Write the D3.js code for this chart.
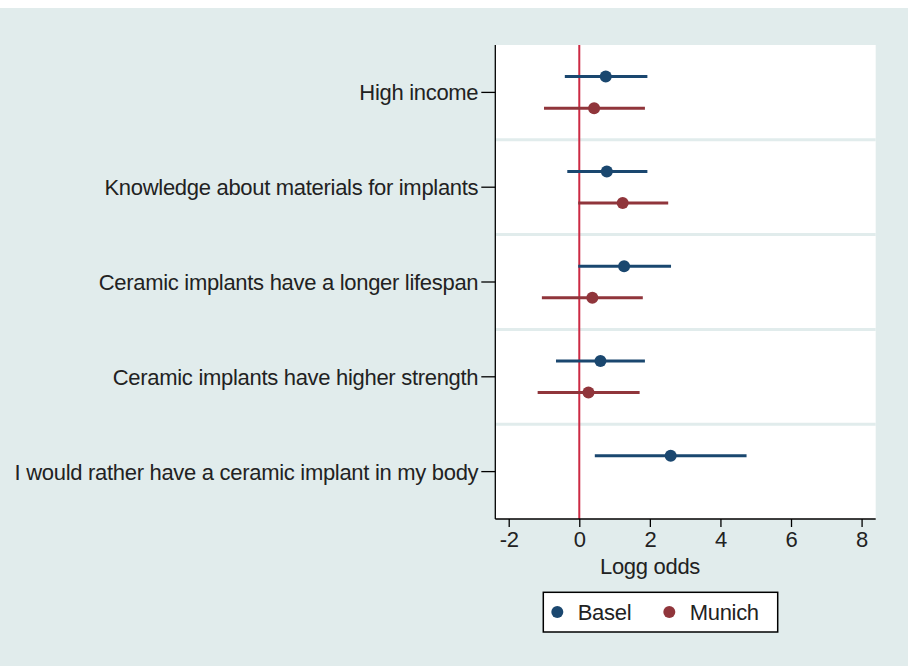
<!DOCTYPE html>
<html>
<head>
<meta charset="utf-8">
<script src="https://cdn.jsdelivr.net/npm/d3@7"></script>
<style>
  html, body { margin: 0; padding: 0; background: #fff; }
  svg { display: block; font-family: "Liberation Sans", Arial, Helvetica, sans-serif; }
  svg text { letter-spacing: -0.3px; }
  .axis text { font-size: 22px; fill: #222; }
  .axis path, .axis line { stroke: #000; stroke-width: 1.3; }
</style>
</head>
<body>
<svg id="chart"></svg>
<script>
// categories (top to bottom)
var categories = [
  "High income",
  "Knowledge about materials for implants",
  "Ceramic implants have a longer lifespan",
  "Ceramic implants have higher strength",
  "I would rather have a ceramic implant in my body"
];
var seriesNames = ["Basel", "Munich"];

// log odds estimates with confidence limits
var baselEst = [0.75, 0.78, 1.27, 0.60, 2.59];
var baselLo  = [-0.41, -0.34, -0.03, -0.66, 0.44];
var baselHi  = [1.93, 1.93, 2.60, 1.86, 4.74];

var munichEst = [0.42, 1.23, 0.37, 0.26, null];
var munichLo  = [-1.00, -0.03, -1.06, -1.18, null];
var munichHi  = [1.86, 2.52, 1.80, 1.71, null];

var xTicks = [-2, 0, 2, 4, 6, 8];

(function() {
  var W = 908, H = 666;
  var colors = { Basel: "#1a476f", Munich: "#90353b" };
  var bg = "#e1ecec";

  var svg = d3.select('#chart').attr('width', W).attr('height', H);

  // graph region
  svg.append('rect').attr('x', 0).attr('y', 8).attr('width', W).attr('height', H - 8).attr('fill', bg);

  var plotL = 495.3, plotR = 875.7, plotT = 45, plotB = 519;

  var x = d3.scaleLinear().domain([-2.38, 8.4]).range([plotL, plotR]);
  var y = d3.scaleBand().domain(categories).range([plotT, plotB]);
  var off = d3.scalePoint().domain(seriesNames).range([-y.bandwidth() / 6, y.bandwidth() / 6]);

  // plot region
  svg.append('rect')
    .attr('x', plotL).attr('y', plotT)
    .attr('width', plotR - plotL).attr('height', plotB - plotT)
    .attr('fill', '#fff');

  // row separators
  svg.append('g').selectAll('line').data(categories.slice(1))
    .enter().append('line')
      .attr('x1', plotL).attr('x2', plotR)
      .attr('y1', function(d) { return y(d); })
      .attr('y2', function(d) { return y(d); })
      .attr('stroke', bg).attr('stroke-width', 3);

  // zero reference line
  svg.append('line')
    .attr('x1', x(0)).attr('x2', x(0))
    .attr('y1', plotT).attr('y2', plotB)
    .attr('stroke', '#cc2a44').attr('stroke-width', 2);

  var series = [
    { name: "Basel", est: baselEst, lo: baselLo, hi: baselHi },
    { name: "Munich", est: munichEst, lo: munichLo, hi: munichHi }
  ];

  series.forEach(function(s) {
    var rows = categories.map(function(c, i) {
      return { cat: c, est: s.est[i], lo: s.lo[i], hi: s.hi[i] };
    }).filter(function(r) { return r.est !== null; });

    var g = svg.append('g').attr('class', 'series ' + s.name);
    var cy = function(r) { return y(r.cat) + y.bandwidth() / 2 + off(s.name); };

    g.selectAll('line').data(rows).enter().append('line')
      .attr('x1', function(r) { return x(r.lo); })
      .attr('x2', function(r) { return x(r.hi); })
      .attr('y1', cy).attr('y2', cy)
      .attr('stroke', colors[s.name]).attr('stroke-width', 3);

    g.selectAll('circle').data(rows).enter().append('circle')
      .attr('cx', function(r) { return x(r.est); })
      .attr('cy', cy)
      .attr('r', 6)
      .attr('fill', colors[s.name]);
  });

  // axes
  svg.append('g')
    .attr('class', 'axis x')
    .attr('transform', 'translate(0,' + plotB + ')')
    .call(d3.axisBottom(x).tickValues(xTicks).tickSize(8).tickPadding(4.5)
      .tickFormat(function(d) { return String(d); }));

  svg.append('g')
    .attr('class', 'axis y')
    .attr('transform', 'translate(' + plotL + ',0)')
    .call(d3.axisLeft(y).tickSize(14).tickPadding(3));

  svg.selectAll('.axis.y .tick text').attr('dy', '0.36em');

  svg.selectAll('.axis .domain').attr('d', function() {
    return d3.select(this.parentNode).classed('x')
      ? 'M' + plotL + ',0H' + plotR
      : 'M0,' + plotT + 'V' + plotB;
  });

  // axis title
  svg.append('text')
    .attr('x', 650).attr('y', 574)
    .attr('text-anchor', 'middle')
    .attr('font-size', 22).attr('fill', '#222')
    .text('Logg odds');

  // legend
  var lg = svg.append('g').attr('class', 'legend');
  lg.append('rect')
    .attr('x', 543.3).attr('y', 592.3).attr('width', 234.4).attr('height', 39.7)
    .attr('fill', '#fff').attr('stroke', '#000').attr('stroke-width', 1.5);

  var legendX = { Basel: 557.3, Munich: 669.3 };
  seriesNames.forEach(function(n) {
    lg.append('circle')
      .attr('cx', legendX[n]).attr('cy', 612).attr('r', 6)
      .attr('fill', colors[n]);
    lg.append('text')
      .attr('x', legendX[n] + 20.4).attr('y', 619.5)
      .attr('font-size', 22).attr('fill', '#222')
      .text(n);
  });
})();
</script>
</body>
</html>
